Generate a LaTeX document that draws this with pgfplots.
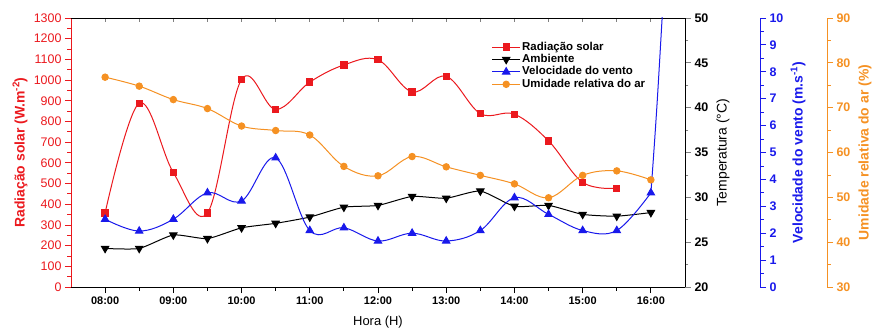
\documentclass[border=0pt]{standalone}
\usepackage{fontspec}
\setmainfont{Liberation Sans}
\usepackage{pgfplots}
\usepackage{pgfplotstable}
\pgfplotsset{compat=1.18}

\definecolor{radred}{RGB}{235,25,30}
\definecolor{windblue}{RGB}{25,25,235}
\definecolor{humorange}{RGB}{245,145,35}

% hour of day, solar radiation (W/m2)
\pgfplotstableread{
h    v
8.0  358
8.5  888
9.0  553
9.5  358
10.0 1003
10.5 858
11.0 990
11.5 1073
12.0 1098
12.5 943
13.0 1018
13.5 838
14.0 835
14.5 706
15.0 506
15.5 477
}\radtable

% hour of day, ambient temperature (C)
\pgfplotstableread{
h    v
8.0  24.3
8.5  24.3
9.0  25.8
9.5  25.4
10.0 26.6
10.5 27.1
11.0 27.8
11.5 28.9
12.0 29.1
12.5 30.1
13.0 29.9
13.5 30.7
14.0 29.0
14.5 29.1
15.0 28.1
15.5 27.9
16.0 28.3
}\temptable

% hour of day, wind speed (m/s)
\pgfplotstableread{
h    v
8.0  2.52
8.5  2.08
9.0  2.52
9.5  3.50
10.0 3.20
10.5 4.80
11.0 2.10
11.5 2.20
12.0 1.71
12.5 2.00
13.0 1.71
13.5 2.10
14.0 3.32
14.5 2.70
15.0 2.10
15.5 2.10
16.0 3.50
}\windtable

% wind speed run-off after the last reading
\pgfplotstableread{
h    v
16.0 3.50
16.1 7.2
16.3 16.0
}\windtail

% hour of day, relative humidity (%)
\pgfplotstableread{
h    v
8.0  76.8
8.5  74.8
9.0  71.8
9.5  69.8
10.0 65.9
10.5 64.9
11.0 63.9
11.5 56.9
12.0 54.8
12.5 59.1
13.0 56.8
13.5 54.9
14.0 53.0
14.5 49.9
15.0 54.9
15.5 55.9
16.0 53.9
}\humtable

\pgfplotsset{
  frame/.style={
    at={(0,0)}, anchor=south west,
    width=614bp, height=269bp, scale only axis,
    xmin=7.5, xmax=16.5,
    /pgf/number format/assume math mode=true,
    /pgf/number format/1000 sep={},
    axis line style={line width=0.9bp},
    every tick/.append style={line width=0.8bp},
    tick align=outside,
    major tick length=6bp, minor tick length=3.5bp,
    yticklabel style={font=\fontsize{12.5}{14}\selectfont\bfseries},
    ylabel style={font=\fontsize{14}{16}\selectfont\bfseries},
  },
  rightscale/.style={frame, axis y line*=right, hide x axis, minor y tick num=1,
    ylabel style={at={(axis description cs:1.0619,0.5)}, anchor=center}},
  dataonly/.style={frame, hide x axis, hide y axis},
  series/.style={line width=1bp, smooth, tension=0.6, mark options={solid}},
}

\begin{document}
\begin{tikzpicture}
\useasboundingbox (-71bp,-41bp) rectangle (801bp,287bp);

% solar radiation, left scale, bottom time axis
\begin{axis}[frame,
  axis y line*=left, axis x line*=bottom,
  ymin=0, ymax=1300, ytick distance=100, minor y tick num=1,
  y axis line style={radred}, ytick style={radred}, minor y tick style={radred},
  yticklabel style={radred, font=\fontsize{12.5}{14}\selectfont},
  ylabel={Radiação solar (W.m\textsuperscript{-2})},
  ylabel style={radred, at={(axis description cs:-0.0831,0.5)}, anchor=center},
  xtick={8,...,16},
  xticklabels={08:00,09:00,10:00,11:00,12:00,13:00,14:00,15:00,16:00},
  minor x tick num=1,
  x tick style={black},
  xticklabel style={font=\fontsize{11}{13}\selectfont\bfseries},
  xlabel={Hora (H)},
  xlabel style={font=\fontsize{13}{15}\selectfont, at={(axis description cs:0.5,-0.13)}, anchor=center},
]
\addplot[series, color=radred, mark=square*, mark size=3.2bp] table[x=h, y=v] {\radtable};
\end{axis}

% top frame line with inward ticks
\begin{axis}[frame, hide y axis, axis x line*=top, tick align=inside,
  ymin=0, ymax=1,
  xtick={8,...,16}, xticklabels={}, minor x tick num=1,
  major tick length=4bp, minor tick length=4bp]
\end{axis}

% ambient temperature, first right scale
\begin{axis}[rightscale,
  ymin=20, ymax=50, ytick distance=5,
  ylabel={Temperatura (°C)},
  ylabel style={font=\fontsize{14}{16}\selectfont},
]
\addplot[series, tension=0.35, color=black, mark=triangle*, mark size=4.2bp,
  mark options={rotate=180}] table[x=h, y=v] {\temptable};
\end{axis}

% wind speed data
\begin{axis}[dataonly, ymin=0, ymax=10]
\addplot[series, color=windblue, mark=triangle*, mark size=4.2bp] table[x=h, y=v] {\windtable};
\addplot[line width=1bp, smooth, tension=0.5, color=windblue, mark=none] table[x=h, y=v] {\windtail};
\end{axis}

% wind speed scale
\begin{axis}[rightscale, at={(75bp,0)},
  ymin=0, ymax=10, ytick distance=1,
  y axis line style={windblue}, ytick style={windblue}, minor y tick style={windblue},
  yticklabel style={windblue},
  ylabel={Velocidade do vento (m.s\textsuperscript{-1})},
  ylabel style={windblue},
]
\end{axis}

% relative humidity data and legend
\begin{axis}[dataonly, ymin=30, ymax=90,
  legend style={at={(rel axis cs:0.680,0.923)}, anchor=north west, draw=none, fill=none,
    font=\fontsize{11.5}{13}\selectfont\bfseries, row sep=0pt,
    nodes={inner xsep=1.5bp, inner ysep=0.6bp, text height=8.6bp, text depth=2.6bp}},
  legend cell align=left,
  legend image code/.code={\draw[mark repeat=2,mark phase=2,#1] plot coordinates {(0bp,0bp) (14bp,0bp) (28bp,0bp)};},
]
\addlegendimage{series, draw=radred, fill=radred, color=radred, mark=square*, mark size=3.2bp}
\addlegendentry{Radiação solar}
\addlegendimage{series, draw=black, fill=black, color=black, mark=triangle*, mark size=4.2bp, mark options={rotate=180}}
\addlegendentry{Ambiente}
\addlegendimage{series, draw=windblue, fill=windblue, color=windblue, mark=triangle*, mark size=4.2bp}
\addlegendentry{Velocidade do vento}
\addplot[series, color=humorange, mark=*, mark size=3.2bp] table[x=h, y=v] {\humtable};
\addlegendentry{Umidade relativa do ar}
\end{axis}

% relative humidity scale
\begin{axis}[rightscale, at={(142bp,0)},
  ymin=30, ymax=90, ytick distance=10,
  y axis line style={humorange}, ytick style={humorange}, minor y tick style={humorange},
  yticklabel style={humorange},
  ylabel={Umidade relativa do ar (\%)},
  ylabel style={humorange},
]
\end{axis}
\end{tikzpicture}
\end{document}
